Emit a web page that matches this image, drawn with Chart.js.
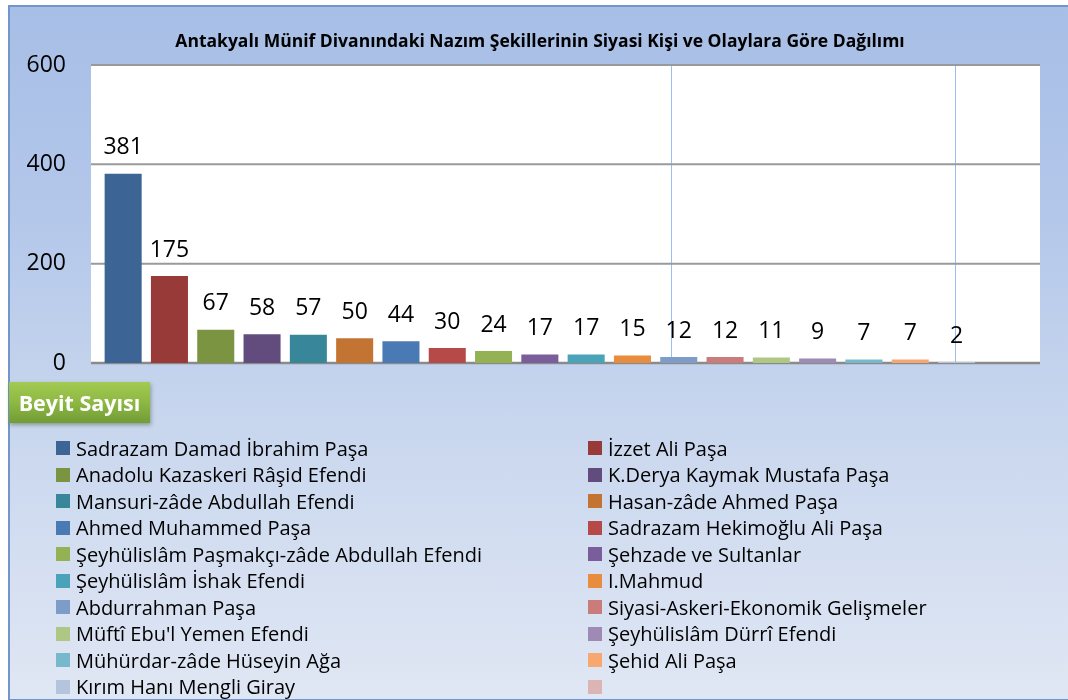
<!DOCTYPE html>
<html>
<head>
<meta charset="utf-8">
<script src="https://cdn.jsdelivr.net/npm/chart.js@4/dist/chart.umd.min.js"></script>
<style>
  html, body { margin: 0; padding: 0; background: #ffffff; }
  #wrap { position: relative; width: 1068px; height: 700px; overflow: hidden; background: #ffffff; }
  #frame { position: absolute; left: 8px; top: 5px; width: 1070px; height: 692px;
    border-left: 2px solid #7296cc; border-top: 2px solid #7296cc; border-bottom: 2px solid #7296cc;
    background: linear-gradient(to bottom, #a7bee6 0%, #b3c7ea 30%, #c5d4ed 55%, #e0e7f4 100%); }
  #c { position: absolute; left: 0; top: 0; }
  #axisTitle { position: absolute; left: 9px; top: 382px; width: 141px; height: 41px;
    background: linear-gradient(to bottom, #a3ca52 0%, #8db843 50%, #729c36 100%);
    box-shadow: 1px 2px 4px rgba(60,80,40,0.45);
    color: #ffffff; font-family: "Open Sans", sans-serif; font-weight: bold; font-size: 21.5px;
    line-height: 41px; text-align: center; white-space: nowrap; }
  #legend { position: absolute; left: 56px; top: 435px; display: grid;
    grid-template-columns: 532px 400px; grid-auto-rows: 26.5px;
    font-family: "Open Sans", sans-serif; font-size: 20px; color: #000; }
  .li { display: flex; align-items: center; white-space: nowrap; }
  .sw { width: 14px; height: 14px; margin-right: 6px; flex: none; }
</style>
</head>
<body>
<div id="wrap">
  <div id="frame"></div>
  <canvas id="c" width="1068" height="700"></canvas>
  <div id="axisTitle">Beyit Sayısı</div>
  <div id="legend"></div>
</div>
<script>
const chartTitle = "Antakyalı Münif Divanındaki Nazım Şekillerinin Siyasi Kişi ve Olaylara Göre Dağılımı";
const categories = [
  "Sadrazam Damad İbrahim Paşa",
  "İzzet Ali Paşa",
  "Anadolu Kazaskeri Râşid Efendi",
  "K.Derya Kaymak Mustafa Paşa",
  "Mansuri-zâde Abdullah Efendi",
  "Hasan-zâde Ahmed Paşa",
  "Ahmed Muhammed Paşa",
  "Sadrazam Hekimoğlu Ali Paşa",
  "Şeyhülislâm Paşmakçı-zâde Abdullah Efendi",
  "Şehzade ve Sultanlar",
  "Şeyhülislâm İshak Efendi",
  "I.Mahmud",
  "Abdurrahman Paşa",
  "Siyasi-Askeri-Ekonomik Gelişmeler",
  "Müftî Ebu'l Yemen Efendi",
  "Şeyhülislâm Dürrî Efendi",
  "Mühürdar-zâde Hüseyin Ağa",
  "Şehid Ali Paşa",
  "Kırım Hanı Mengli Giray",
  ""
];
const beyitSayisi = [381, 175, 67, 58, 57, 50, 44, 30, 24, 17, 17, 15, 12, 12, 11, 9, 7, 7, 2, null];
const barColors = [
  "#3c6494", "#983a38", "#7a9442", "#624c7e", "#38869a",
  "#c47432", "#4a7ab4", "#b64a48", "#94b254", "#7a5e9c",
  "#4aa3b8", "#e88c3e", "#7e9cc8", "#ca7c7a", "#afc784",
  "#9e8ab4", "#78b8cc", "#f7a870", "#b4c4dc", "#ddb4b4"
];
const yTicks = [0, 200, 400, 600];
const seriesName = "Beyit Sayısı";

const FONT = '"Open Sans", sans-serif';

const plotDecor = {
  id: 'plotDecor',
  beforeDraw(chart) {
    const { ctx, chartArea } = chart;
    const y = chart.scales.y;
    const left = chartArea.left - 9, right = chartArea.right + 14;
    ctx.save();
    ctx.fillStyle = '#ffffff';
    ctx.fillRect(left, chartArea.top, right - left, chartArea.bottom - chartArea.top);
    ctx.strokeStyle = '#9dbdf0';
    ctx.lineWidth = 1;
    [0.611, 0.910].forEach(f => {
      const x = Math.round(left + f * (right - left)) + 0.5;
      ctx.beginPath(); ctx.moveTo(x, chartArea.top); ctx.lineTo(x, chartArea.bottom); ctx.stroke();
    });
    yTicks.forEach(v => {
      const py = y.getPixelForValue(v);
      ctx.strokeStyle = v === 0 ? '#8a8a8a' : '#9a9a9a';
      ctx.lineWidth = v === 0 ? 2.5 : 2;
      ctx.beginPath(); ctx.moveTo(left, py); ctx.lineTo(right, py); ctx.stroke();
    });
    ctx.restore();
  }
};

const valueLabels = {
  id: 'valueLabels',
  afterDatasetsDraw(chart) {
    const { ctx } = chart;
    const meta = chart.getDatasetMeta(0);
    const data = chart.data.datasets[0].data;
    ctx.save();
    ctx.font = '23px ' + FONT;
    ctx.fillStyle = '#000000';
    ctx.textAlign = 'center';
    ctx.textBaseline = 'middle';
    meta.data.forEach((el, i) => {
      const v = data[i];
      if (v === null || v === undefined) return;
      ctx.fillText(String(v), el.x, el.y - 26);
    });
    ctx.restore();
  }
};

const chart = new Chart(document.getElementById('c'), {
  type: 'bar',
  data: {
    labels: categories,
    datasets: [{
      label: seriesName,
      data: beyitSayisi,
      backgroundColor: barColors,
      borderWidth: 0,
      barPercentage: 0.8,
      categoryPercentage: 1.0
    }]
  },
  options: {
    responsive: false,
    animation: false,
    events: [],
    layout: { padding: { left: 12, right: 0, top: 0, bottom: 337 } },
    plugins: {
      legend: { display: false },
      tooltip: { enabled: false },
      title: {
        display: true,
        text: chartTitle,
        color: '#000000',
        font: { family: FONT, size: 17.5, weight: 'bold' },
        padding: { top: 32, bottom: 12 }
      }
    },
    scales: {
      x: {
        grid: { display: false, drawTicks: false },
        border: { display: false },
        ticks: { display: false }
      },
      y: {
        min: 0, max: 600,
        afterFit(scale) { scale.width = 88; },
        afterBuildTicks(scale) { scale.ticks = yTicks.map(v => ({ value: v })); },
        grid: { display: false, drawTicks: false },
        border: { display: false },
        ticks: { color: '#000000', font: { family: FONT, size: 23 }, padding: 34 }
      },
      yRight: {
        type: 'linear',
        position: 'right',
        min: 0, max: 600,
        afterFit(scale) { scale.width = 42; },
        grid: { display: false, drawTicks: false },
        border: { display: false },
        ticks: { display: false }
      }
    }
  },
  plugins: [plotDecor, valueLabels]
});

const legendEl = document.getElementById('legend');
chart.data.labels.forEach((lab, i) => {
  const item = document.createElement('div');
  item.className = 'li';
  const sw = document.createElement('span');
  sw.className = 'sw';
  sw.style.background = chart.data.datasets[0].backgroundColor[i];
  const tx = document.createElement('span');
  tx.textContent = lab;
  item.appendChild(sw); item.appendChild(tx);
  legendEl.appendChild(item);
});
</script>
</body>
</html>
